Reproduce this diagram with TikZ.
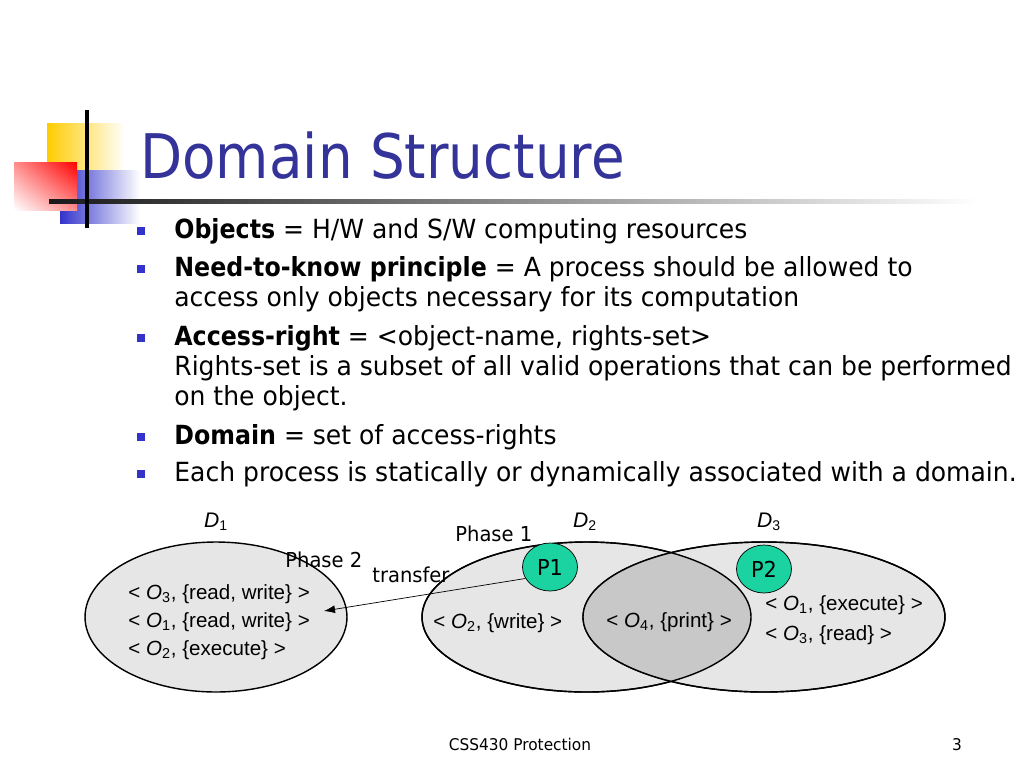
\documentclass[tikz,border=0pt]{standalone}
\usepackage{fontspec}
\setmainfont{DejaVu Sans}[FakeStretch=0.95, BoldFeatures={FakeStretch=0.9}]
\newfontfamily\titlefont{DejaVu Sans}[FakeStretch=0.89]
\newfontfamily\arialfont{Liberation Sans}
\usepackage{tikz}
\usetikzlibrary{shapes.geometric, arrows.meta, shadings}

\definecolor{titleblue}{HTML}{333399}
\definecolor{bulletblue}{HTML}{3333CC}
\definecolor{logoyellow}{HTML}{FFCC00}
\definecolor{logoblue}{HTML}{3333CC}
\definecolor{domaingray}{HTML}{E6E6E6}
\definecolor{lensgray}{HTML}{C8C8C8}
\definecolor{procgreen}{HTML}{1AD3A0}

\begin{document}
\begin{tikzpicture}[
  x=0.02cm, y=-0.02cm,
  every node/.style={inner sep=0pt},
  titletext/.style={anchor=base west, text=titleblue, font=\titlefont\fontsize{35}{40}\selectfont},
  bulletbox/.style={fill=bulletblue, minimum size=0.16cm},
  linetext/.style={anchor=base west, font=\fontsize{15}{18}\selectfont},
  domainbox/.style={draw, thick, ellipse, fill=domaingray, minimum height=3cm},
  proc/.style={draw, ellipse, fill=procgreen, minimum width=1.1cm, minimum height=0.96cm, font=\fontsize{12.5}{15}\selectfont},
  objtext/.style={anchor=base west, font=\arialfont\fontsize{11.7}{14}\selectfont},
  dlabel/.style={anchor=base, font=\arialfont\fontsize{12}{14}\selectfont},
  phasetext/.style={anchor=base west, font=\fontsize{11.7}{14}\selectfont}
]
\useasboundingbox[fill=white] (0,0) rectangle (1024,768);

% logo
\shade[left color=logoyellow, middle color=logoyellow, right color=white] (47,123) rectangle (125,172);
\shade[left color=logoblue, middle color=logoblue, right color=white] (60,170) rectangle (140,223);
\shade[upper right=red, upper left=red!45!white, lower right=red!45!white, lower left=white] (14,162) rectangle (77,210);
\shade[left color=black!90, right color=white] (49,199) rectangle (980,203);
\draw[line width=0.08cm] (87,110) -- (87,228);

% title
\node[titletext] (title) at (140,178) {Domain Structure};

% bullets
\node[bulletbox] (s1) at (141,231) {};
\node[bulletbox] (s2) at (141,269) {};
\node[bulletbox] (s3) at (141,338) {};
\node[bulletbox] (s4) at (141,437) {};
\node[bulletbox] (s5) at (141,474) {};

\node[linetext] (objects) at (174,238) {\textbf{Objects} = H/W and S/W computing resources};
\node[linetext] (need) at (174,276) {\textbf{Need-to-know principle} = A process should be allowed to};
\node[linetext] (need2) at (174,306) {access only objects necessary for its computation};
\node[linetext] (right) at (174,345) {\textbf{Access-right} = <object-name, rights-set>};
\node[linetext] (right2) at (174,375) {Rights-set is a subset of all valid operations that can be performed};
\node[linetext] (right3) at (174,405) {on the object.};
\node[linetext] (dom) at (174,444) {\textbf{Domain} = set of access-rights};
\node[linetext] (each) at (174,481) {Each process is statically or dynamically associated with a domain.};

% domains
\node[domainbox, minimum width=5.24cm] (d1) at (216,617) {};
\node[domainbox, minimum width=6.58cm] (d2) at (586.5,617) {};
\node[domainbox, minimum width=7.24cm] (d3) at (764,617) {};
\begin{scope}
  \clip (d2.center) ellipse [x radius=164.5, y radius=75];
  \fill[lensgray] (d3.center) ellipse [x radius=181, y radius=75];
\end{scope}
\draw[thick] (d2.center) ellipse [x radius=164.5, y radius=75];
\draw[thick] (d3.center) ellipse [x radius=181, y radius=75];

\node[dlabel] (l1) at (216,527) {\textit{D}\textsubscript{1}};
\node[dlabel] (l2) at (585,527) {\textit{D}\textsubscript{2}};
\node[dlabel] (l3) at (769,527) {\textit{D}\textsubscript{3}};

\node[objtext] (o13) at (128,599) {< \textit{O}\textsubscript{3}, \{read, write\} >};
\node[objtext] (o11) at (128,627) {< \textit{O}\textsubscript{1}, \{read, write\} >};
\node[objtext] (o12) at (128,655) {< \textit{O}\textsubscript{2}, \{execute\} >};
\node[objtext] (o22) at (433,628) {< \textit{O}\textsubscript{2}, \{write\} >};
\node[objtext] (o4) at (606,627) {< \textit{O}\textsubscript{4}, \{print\} >};
\node[objtext] (o31) at (765,610) {< \textit{O}\textsubscript{1}, \{execute\} >};
\node[objtext] (o33) at (765,640) {< \textit{O}\textsubscript{3}, \{read\} >};

\node[proc] (p1) at (550,567) {P1};
\node[proc] (p2) at (764,569) {P2};

\node[phasetext] (ph1) at (455,541) {Phase 1};
\node[phasetext] (ph2) at (285,567) {Phase 2};
\node[phasetext] (tr) at (372,582) {transfer};

\coordinate (tip) at (324,611);
\draw[-{Latex[length=2.2mm, width=1.6mm]}] (p1.205) -- (tip);

% footer
\node[anchor=base, font=\fontsize{9.2}{11}\selectfont] (foot) at (520,750) {CSS430 Protection};
\node[anchor=base, font=\fontsize{9.2}{11}\selectfont] (page) at (957,750) {3};
\end{tikzpicture}
\end{document}
